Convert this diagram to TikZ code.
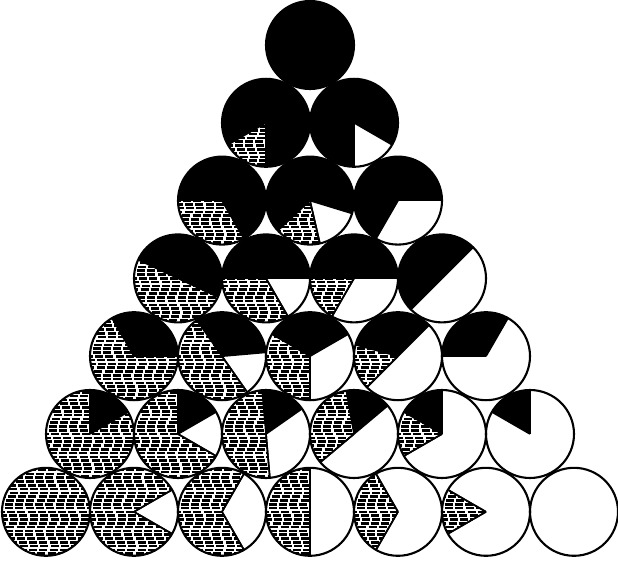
\documentclass[tikz,border=0pt]{standalone}
\begin{document}
\begin{tikzpicture}[x=1pt,y=1pt]
\tikzset{
  outline/.style={line width=2.1pt},
  sectoredge/.style={line width=1.6pt},
  hatchline/.style={line width=2.6pt, dash pattern=on 8pt off 2.2pt},
}
\def\R{44}
% #1 row, #2 position, #3 start angle, #4 black deg, #5 hatched deg, #6 white deg
\newcommand\mypie[6]{%
  \pgfmathsetmacro\cx{310+88*(#2-#1/2)}%
  \pgfmathsetmacro\cy{515-77.8*#1}%
  \pgfmathsetmacro\aA{#3}%
  \pgfmathsetmacro\aB{#3+#4}%
  \pgfmathsetmacro\aC{#3+#4+#5}%
  \pgfmathsetmacro\aD{#3+360}%
  \coordinate (c#1#2) at (\cx,\cy);
  \ifdim #4pt>0pt
    \fill (c#1#2) -- ++(\aA:\R) arc[start angle=\aA, end angle=\aB, radius=\R] -- cycle;
  \fi
  \ifdim #5pt>0pt
    \begin{scope}
      \clip (c#1#2) -- ++(\aB:\R) arc[start angle=\aB, end angle=\aC, radius=\R] -- cycle;
      \foreach \k in {-12,...,12}{
        \pgfmathsetmacro\ph{3+2.6*sin(\k*50)}
        \draw[hatchline, dash phase=\ph pt] ([xshift=-46pt, yshift=\k*3.8pt]c#1#2) -- ([xshift=46pt, yshift=\k*3.8pt]c#1#2);
      }
    \end{scope}
  \fi
  \ifdim #5pt>0pt \ifdim #5pt<360pt
    \draw[sectoredge] (c#1#2) -- ++(\aB:\R);
    \draw[sectoredge] (c#1#2) -- ++(\aC:\R);
  \fi\fi
  \ifdim #6pt>0pt \ifdim #6pt<360pt
    \draw[sectoredge] (c#1#2) -- ++(\aC:\R);
    \draw[sectoredge] (c#1#2) -- ++(\aD:\R);
  \fi\fi
  \draw[outline] (c#1#2) circle[radius=\R];
}
\useasboundingbox (0,0) rectangle (618,560);
\fill[white] (0,0) rectangle (618,560);
\mypie{0}{0}{90}{360}{0}{0}
\mypie{1}{0}{270}{300}{60}{0}
\mypie{1}{1}{330}{300}{0}{60}
\mypie{2}{0}{300}{240}{120}{0}
\mypie{2}{1}{343}{240}{60}{60}
\mypie{2}{2}{0}{240}{0}{120}
\mypie{3}{0}{335}{180}{180}{0}
\mypie{3}{1}{0}{180}{120}{60}
\mypie{3}{2}{0}{180}{60}{120}
\mypie{3}{3}{45}{180}{0}{180}
\mypie{4}{0}{0}{120}{240}{0}
\mypie{4}{1}{5}{120}{180}{60}
\mypie{4}{2}{30}{120}{120}{120}
\mypie{4}{3}{45}{120}{60}{180}
\mypie{4}{4}{60}{120}{0}{240}
\mypie{5}{0}{30}{60}{300}{0}
\mypie{5}{1}{30}{60}{240}{60}
\mypie{5}{2}{35}{60}{180}{120}
\mypie{5}{3}{40}{60}{120}{180}
\mypie{5}{4}{90}{60}{60}{240}
\mypie{5}{5}{90}{60}{0}{300}
\mypie{6}{0}{0}{0}{360}{0}
\mypie{6}{1}{30}{0}{300}{60}
\mypie{6}{2}{60}{0}{240}{120}
\mypie{6}{3}{90}{0}{180}{180}
\mypie{6}{4}{120}{0}{120}{240}
\mypie{6}{5}{150}{0}{60}{300}
\mypie{6}{6}{0}{0}{0}{360}
\end{tikzpicture}
\end{document}
